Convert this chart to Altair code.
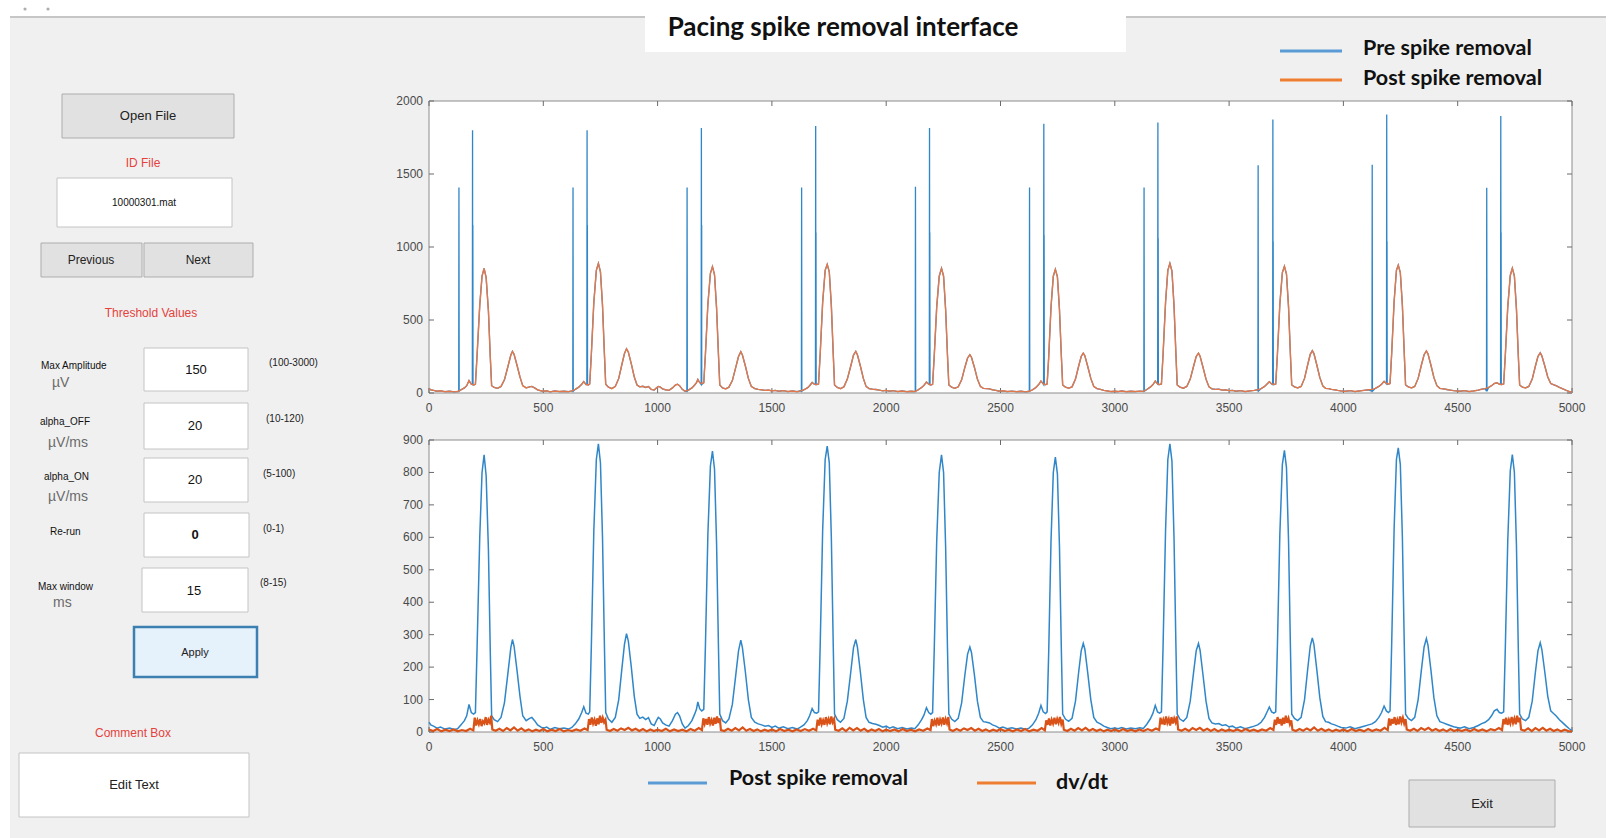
import altair as alt
import pandas as pd

W, H = 1612, 838

# ---------------- data ----------------
# Post spike removal signal (uV) : (time ms, value), one list per beat
post_beats = [
    [(0,30),(8,22),(20,18),(35,12),(50,15),(70,9),(90,12),(110,8),(125,10),(140,22),(155,35),(165,50),(175,85),(185,60),(195,55),(203,60),(210,250),(222,600),(232,800),(241,854),(250,790),(260,560),(268,250),(274,50),(285,38),(300,32),(315,45),(330,90),(345,180),(358,260),(365,285),(372,265),(385,190),(398,110),(410,50),(425,35),(440,42),(450,45),(462,35),(475,22),(490,15)],
    [(500,12),(515,15),(530,8),(550,14),(570,10),(590,12),(610,9),(625,14),(640,25),(655,40),(668,60),(677,78),(687,58),(697,55),(703,62),(710,260),(721,620),(732,840),(741,888),(750,830),(759,600),(767,280),(773,60),(785,40),(800,30),(815,45),(830,100),(843,190),(855,270),(864,303),(872,280),(885,200),(898,110),(910,55),(922,42),(935,46),(948,38),(960,44),(972,25),(985,20),(995,35),(1003,45),(1012,40),(1022,28),(1035,22),(1050,18),(1065,35),(1078,55),(1087,60),(1096,50),(1108,25),(1120,12)],
    [(1135,20),(1150,35),(1162,55),(1170,70),(1176,93),(1184,72),(1193,65),(1202,70),(1209,260),(1220,610),(1231,820),(1240,866),(1249,810),(1258,580),(1266,270),(1272,55),(1284,35),(1298,28),(1312,40),(1327,85),(1341,170),(1354,250),(1364,283),(1371,260),(1384,185),(1397,100),(1410,45),(1425,30),(1440,25),(1455,22),(1470,18),(1485,20),(1500,14)],
    [(1515,18),(1530,12),(1550,16),(1570,10),(1590,14),(1610,9),(1625,15),(1640,22),(1655,35),(1665,50),(1676,72),(1686,60),(1696,58),(1704,62),(1711,260),(1722,620),(1733,840),(1742,881),(1751,830),(1760,600),(1768,280),(1774,55),(1786,38),(1800,30),(1815,42),(1830,95),(1845,185),(1857,260),(1867,285),(1874,262),(1887,185),(1900,100),(1912,45),(1925,30),(1940,26),(1955,24),(1970,20),(1985,15),(2000,18)],
    [(2015,12),(2030,16),(2050,10),(2070,14),(2090,9),(2110,12),(2125,10),(2140,22),(2155,38),(2165,52),(2176,75),(2186,60),(2195,55),(2203,60),(2210,250),(2221,590),(2232,800),(2242,854),(2251,800),(2260,570),(2268,260),(2274,55),(2286,40),(2300,32),(2315,42),(2330,90),(2344,175),(2356,240),(2366,262),(2373,245),(2386,175),(2399,95),(2412,45),(2425,32),(2440,30),(2452,28),(2465,22),(2480,18),(2495,12)],
    [(2510,15),(2530,10),(2550,13),(2570,9),(2590,12),(2610,8),(2625,12),(2640,22),(2655,38),(2667,58),(2677,82),(2687,62),(2697,57),(2704,62),(2711,250),(2721,590),(2731,800),(2740,847),(2749,795),(2758,570),(2766,260),(2772,55),(2784,40),(2798,33),(2813,42),(2828,95),(2842,185),(2853,250),(2862,273),(2869,255),(2882,180),(2895,100),(2908,45),(2922,30),(2937,25),(2952,18),(2967,14),(2982,10),(3000,12)],
    [(3015,10),(3030,14),(3050,9),(3070,12),(3090,10),(3110,13),(3125,11),(3140,24),(3155,40),(3167,58),(3177,82),(3187,62),(3196,58),(3204,62),(3211,260),(3222,620),(3232,840),(3241,888),(3250,835),(3259,600),(3267,280),(3273,55),(3285,40),(3300,33),(3315,45),(3330,95),(3344,180),(3356,250),(3366,273),(3373,252),(3386,175),(3399,95),(3412,42),(3425,28),(3440,25),(3455,26),(3470,20),(3485,22),(3500,16)],
    [(3515,18),(3530,12),(3550,16),(3570,10),(3590,14),(3610,18),(3625,22),(3640,30),(3655,45),(3665,60),(3676,77),(3686,62),(3696,58),(3704,62),(3711,255),(3722,610),(3733,825),(3742,868),(3751,815),(3760,590),(3768,270),(3774,55),(3786,42),(3800,35),(3815,45),(3830,100),(3844,195),(3855,265),(3864,290),(3871,270),(3884,190),(3897,105),(3910,48),(3922,32),(3935,30),(3948,25),(3962,22),(3975,18),(3990,14)],
    [(4010,12),(4030,16),(4050,10),(4070,14),(4090,18),(4110,22),(4125,25),(4140,32),(4155,45),(4167,60),(4178,80),(4188,65),(4197,60),(4204,65),(4211,265),(4222,630),(4232,840),(4240,876),(4249,825),(4258,600),(4266,280),(4272,55),(4284,42),(4298,35),(4312,45),(4327,100),(4341,190),(4353,262),(4363,288),(4370,268),(4383,190),(4396,105),(4409,50),(4422,32),(4437,28),(4452,24),(4467,20),(4482,16),(4497,14)],
    [(4510,12),(4530,16),(4550,10),(4570,14),(4590,20),(4605,26),(4620,30),(4635,38),(4648,50),(4660,65),(4672,70),(4682,60),(4692,58),(4701,62),(4708,250),(4719,590),(4730,805),(4739,855),(4748,800),(4757,575),(4765,260),(4771,55),(4783,40),(4797,35),(4811,45),(4826,95),(4840,185),(4851,250),(4861,275),(4868,255),(4881,185),(4894,110),(4907,65),(4918,58),(4930,50),(4945,38),(4960,28),(4975,18),(4988,10),(5000,4)],
]

# Pacing spikes present before removal: (time ms, height uV)
spike1 = [(131,1408),(630,1408),(1129,1408),(1630,1408),(2128,1412),(2627,1408),(3128,1408),(3627,1560),(4126,1564),(4627,1406)]
spike2 = [(191,1800),(692,1800),(1192,1815),(1692,1829),(2190,1815),(2690,1845),(3189,1852),(3692,1874),(4190,1908),(4689,1897)]
spike2_inner = [1150,1150,1150,1100,1100,1080,1060,1040,1040,1100]

# dv/dt trace : (time ms, value), one list per beat
dvdt_beats = [
    [(0,8),(18,3),(36,9),(54,2),(72,7),(90,3),(108,8),(126,2),(144,6),(162,3),(180,10),(194,5),(200,44),(206,20),(212,36),(218,24),(224,40),(230,18),(236,33),(242,27),(248,46),(254,22),(260,38),(266,29),(272,50),(277,8),(292,4),(308,10),(324,3),(340,12),(356,5),(372,14),(388,4),(404,11),(420,3),(436,8),(452,2),(468,7),(484,3)],
    [(500,9),(518,2),(536,7),(554,3),(572,9),(590,2),(608,6),(626,3),(644,8),(662,4),(680,11),(694,6),(700,40),(706,22),(712,45),(718,26),(724,38),(730,19),(736,42),(742,24),(748,50),(754,28),(760,44),(766,30),(772,38),(777,7),(792,3),(808,9),(824,4),(840,11),(856,6),(872,13),(888,5),(904,10),(920,3),(936,9),(952,2),(968,8),(984,3)],
    [(1000,7),(1018,3),(1036,10),(1054,2),(1072,8),(1090,3),(1108,7),(1126,2),(1144,9),(1162,4),(1180,12),(1194,6),(1200,42),(1206,25),(1212,40),(1218,22),(1224,46),(1230,26),(1236,37),(1242,20),(1248,44),(1254,25),(1260,48),(1266,28),(1272,42),(1277,6),(1292,3),(1308,10),(1324,4),(1340,12),(1356,5),(1372,14),(1388,4),(1404,9),(1420,3),(1436,8),(1452,2),(1468,7),(1484,3)],
    [(1500,8),(1518,2),(1536,9),(1554,3),(1572,7),(1590,2),(1608,8),(1626,3),(1644,9),(1662,4),(1680,10),(1694,5),(1700,38),(1706,20),(1712,44),(1718,24),(1724,36),(1730,22),(1736,46),(1742,27),(1748,40),(1754,24),(1760,48),(1766,30),(1772,40),(1777,7),(1792,4),(1808,11),(1824,3),(1840,13),(1856,5),(1872,12),(1888,4),(1904,10),(1920,2),(1936,8),(1952,3),(1968,9),(1984,2)],
    [(2000,7),(2018,3),(2036,8),(2054,2),(2072,9),(2090,3),(2108,7),(2126,2),(2144,8),(2162,4),(2180,11),(2194,6),(2200,40),(2206,18),(2212,35),(2218,24),(2224,44),(2230,20),(2236,38),(2242,26),(2248,45),(2254,22),(2260,40),(2266,27),(2272,46),(2277,8),(2292,3),(2308,9),(2324,4),(2340,11),(2356,6),(2372,12),(2388,4),(2404,10),(2420,3),(2436,8),(2452,2),(2468,7),(2484,3)],
    [(2500,9),(2518,3),(2536,7),(2554,2),(2572,8),(2590,3),(2608,9),(2626,2),(2644,7),(2662,4),(2680,12),(2694,5),(2700,36),(2706,22),(2712,42),(2718,20),(2724,38),(2730,26),(2736,44),(2742,24),(2748,40),(2754,28),(2760,46),(2766,25),(2772,38),(2777,7),(2792,3),(2808,10),(2824,4),(2840,12),(2856,5),(2872,13),(2888,4),(2904,9),(2920,3),(2936,8),(2952,2),(2968,7),(2984,3)],
    [(3000,8),(3018,2),(3036,9),(3054,3),(3072,7),(3090,2),(3108,8),(3126,3),(3144,9),(3162,4),(3180,11),(3194,6),(3200,44),(3206,24),(3212,38),(3218,22),(3224,48),(3230,28),(3236,40),(3242,20),(3248,46),(3254,26),(3260,42),(3266,30),(3272,48),(3277,8),(3292,4),(3308,10),(3324,3),(3340,12),(3356,6),(3372,13),(3388,4),(3404,10),(3420,3),(3436,9),(3452,2),(3468,8),(3484,3)],
    [(3500,7),(3518,3),(3536,8),(3554,2),(3572,9),(3590,3),(3608,7),(3626,2),(3644,8),(3662,4),(3680,12),(3694,6),(3700,38),(3706,22),(3712,46),(3718,26),(3724,40),(3730,20),(3736,44),(3742,25),(3748,50),(3754,28),(3760,42),(3766,24),(3772,36),(3777,7),(3792,3),(3808,9),(3824,4),(3840,11),(3856,5),(3872,14),(3888,4),(3904,10),(3920,3),(3936,8),(3952,2),(3968,7),(3984,3)],
    [(4000,8),(4018,2),(4036,9),(4054,3),(4072,7),(4090,2),(4108,9),(4126,3),(4144,8),(4162,4),(4180,13),(4194,6),(4200,42),(4206,20),(4212,40),(4218,26),(4224,46),(4230,22),(4236,38),(4242,24),(4248,48),(4254,30),(4260,44),(4266,26),(4272,40),(4277,8),(4292,4),(4308,10),(4324,3),(4340,12),(4356,6),(4372,13),(4388,4),(4404,9),(4420,3),(4436,8),(4452,2),(4468,9),(4484,3)],
    [(4500,7),(4518,3),(4536,8),(4554,2),(4572,9),(4590,3),(4608,8),(4626,2),(4644,9),(4662,5),(4680,12),(4694,6),(4700,40),(4706,24),(4712,44),(4718,22),(4724,38),(4730,26),(4736,46),(4742,28),(4748,42),(4754,24),(4760,50),(4766,30),(4772,44),(4777,8),(4792,4),(4808,11),(4824,3),(4840,12),(4856,5),(4872,13),(4888,4),(4904,10),(4920,3),(4936,8),(4952,2),(4968,7),(4984,3),(5000,2)],
]

x_ticks = [0, 500, 1000, 1500, 2000, 2500, 3000, 3500, 4000, 4500, 5000]
y_ticks_top = [0, 500, 1000, 1500, 2000]
y_ticks_bot = [0, 100, 200, 300, 400, 500, 600, 700, 800, 900]

# ---------------- tables ----------------
post_pts = [p for beat in post_beats for p in beat]
pre_pts = list(post_pts)
for (t, h) in spike1:
    pre_pts += [(t - 1, 12), (t, h), (t + 1, 12)]
for (t, h), h2 in zip(spike2, spike2_inner):
    pre_pts += [(t - 1.5, 58), (t - 0.5, h), (t + 0.3, 58), (t + 0.8, h2), (t + 1.6, 58)]
pre_pts.sort()
dvdt_pts = [p for beat in dvdt_beats for p in beat]

post_df = pd.DataFrame(post_pts, columns=["t", "v"])
pre_df = pd.DataFrame(pre_pts, columns=["t", "v"])
dvdt_df = pd.DataFrame(dvdt_pts, columns=["t", "v"])

# ---------------- styling / layout ----------------
GUI_FONT = "Liberation Sans"
HEAD_FONT = "Lato"
RED = "#e4423d"
BLUE = "#2f86c8"
ORANGE = "#d95319"
TICK_COL = "#4a4a4a"
X0, X1 = 429, 1572

dummy = alt.Data(values=[{"k": 0}])


def rect(x1, y1, x2, y2, fill, stroke=None, sw=1.0):
    kw = dict(fill=fill)
    if stroke:
        kw.update(stroke=stroke, strokeWidth=sw)
    else:
        kw.update(strokeWidth=0)
    return alt.Chart(dummy).mark_rect(**kw).encode(
        x=alt.value(x1), x2=alt.value(x2), y=alt.value(y1), y2=alt.value(y2))


def label(x, y, s, size=12, color="#000000", weight="normal", align="center", font=GUI_FONT):
    return alt.Chart(dummy).mark_text(
        text=s, fontSize=size, color=color, fontWeight=weight, align=align,
        baseline="middle", font=font).encode(x=alt.value(x), y=alt.value(y))


def hline(x1, x2, y, color, sw):
    return alt.Chart(dummy).mark_rule(color=color, strokeWidth=sw).encode(
        x=alt.value(x1), x2=alt.value(x2), y=alt.value(y))


def panel(ymax, yticks, y_top, y_bot, lines):
    xs = alt.Scale(domain=[0, 5000], range=[X0, X1], nice=False, zero=False)
    ys = alt.Scale(domain=[0, ymax], range=[y_bot, y_top], nice=False, zero=False)
    box = alt.Chart(dummy).mark_rect(fill="white", stroke="#8c8c8c", strokeWidth=1).encode(
        x=alt.XDatum(0, type="quantitative", scale=xs, axis=None),
        x2=alt.X2Datum(5000),
        y=alt.YDatum(0, type="quantitative", scale=ys, axis=None),
        y2=alt.Y2Datum(ymax),
    )
    xt = pd.DataFrame({"v": x_ticks})
    yt = pd.DataFrame({"v": yticks})
    tick_layers = []
    for yval, off in [(0, -5), (ymax, 5)]:
        tick_layers.append(alt.Chart(xt).mark_rule(color="#6a6a6a", strokeWidth=1, y2Offset=off).encode(
            x=alt.X("v:Q", scale=xs, axis=None),
            y=alt.YDatum(yval, type="quantitative", scale=ys, axis=None),
            y2=alt.Y2Datum(yval)))
    for xval, off in [(0, 5), (5000, -5)]:
        tick_layers.append(alt.Chart(yt).mark_rule(color="#6a6a6a", strokeWidth=1, x2Offset=off).encode(
            y=alt.Y("v:Q", scale=ys, axis=None),
            x=alt.XDatum(xval, type="quantitative", scale=xs, axis=None),
            x2=alt.X2Datum(xval)))
    # tick labels, placed through the panel's own scales
    xlab = alt.Chart(xt).mark_text(fontSize=12, font=GUI_FONT, color=TICK_COL, baseline="middle",
                                   align="center", dy=15).encode(
        x=alt.X("v:Q", scale=xs, axis=None),
        y=alt.YDatum(0, type="quantitative", scale=ys, axis=None),
        text=alt.Text("v:Q", format="d"))
    ylab = alt.Chart(yt).mark_text(fontSize=12, font=GUI_FONT, color=TICK_COL, baseline="middle",
                                   align="right", dx=-6).encode(
        y=alt.Y("v:Q", scale=ys, axis=None),
        x=alt.XDatum(0, type="quantitative", scale=xs, axis=None),
        text=alt.Text("v:Q", format="d"))
    line_layers = []
    for df, color, sw in lines:
        line_layers.append(alt.Chart(df).mark_line(color=color, strokeWidth=sw, interpolate="linear").encode(
            x=alt.X("t:Q", scale=xs, axis=None),
            y=alt.Y("v:Q", scale=ys, axis=None),
            order="t:Q"))
    return alt.layer(box, *tick_layers, *line_layers, xlab, ylab)


top_panel = panel(2000, y_ticks_top, 101, 393,
                  [(pre_df, "#2f86c8", 1.3), (post_df, "#e4784a", 1.4)])
bottom_panel = panel(900, y_ticks_bot, 440, 732,
                     [(post_df, BLUE, 1.5), (dvdt_df, ORANGE, 2.2)])

# ---------------- GUI elements ----------------
bg = [
    rect(10, 17, 1606, 838, "#f0f0f0"),
    hline(10, 1606, 17, "#c6c6c6", 2),
    alt.Chart(dummy).mark_circle(color="#8a8a8a", size=10).encode(x=alt.value(25), y=alt.value(9)),
    alt.Chart(dummy).mark_circle(color="#8a8a8a", size=10).encode(x=alt.value(48), y=alt.value(9)),
    rect(645, 8, 1126, 52, "white"),
    label(843, 28, "Pacing spike removal interface", size=26, weight="bold", font=HEAD_FONT, color="#111111"),
    # top legend
    hline(1280, 1342, 51, "#5b9bd5", 3),
    hline(1280, 1342, 80, "#ed7d31", 3),
    label(1363, 49, "Pre spike removal", size=21.5, weight="bold", align="left", font=HEAD_FONT, color="#111111"),
    label(1363, 79, "Post spike removal", size=21.5, weight="bold", align="left", font=HEAD_FONT, color="#111111"),
    # bottom legend
    hline(648, 707, 783, "#5b9bd5", 3),
    hline(977, 1036, 783, "#ed7d31", 3),
    label(729, 779, "Post spike removal", size=21.5, weight="bold", align="left", font=HEAD_FONT, color="#111111"),
    label(1056, 783, "dv/dt", size=21.5, weight="bold", align="left", font=HEAD_FONT, color="#111111"),
    # exit button
    rect(1409, 780, 1555, 827, "#e1e1e1", "#adadad", 1),
    label(1482, 804, "Exit", size=13, color="#222222"),
]

BTN_FILL, BTN_STROKE = "#e1e1e1", "#adadad"
BOX_STROKE = "#c4c4c4"
left = [
    rect(62, 94, 234, 138, BTN_FILL, BTN_STROKE),
    label(148, 116, "Open File", size=13, color="#222222"),
    label(143, 163, "ID File", size=12, color=RED),
    rect(57, 178, 232, 227, "white", BOX_STROKE),
    label(144, 203, "10000301.mat", size=10, color="#111111"),
    rect(41, 243, 142, 277, BTN_FILL, BTN_STROKE),
    label(91, 260, "Previous", size=12, color="#222222"),
    rect(144, 243, 253, 277, BTN_FILL, BTN_STROKE),
    label(198, 260, "Next", size=12, color="#222222"),
    label(151, 313, "Threshold Values", size=12, color=RED),
    # Max Amplitude
    label(41, 366, "Max Amplitude", size=10, align="left", color="#111111"),
    label(52, 383, "µV", size=14, align="left", color="#6a6a6a"),
    rect(144, 348, 248, 391, "white", BOX_STROKE),
    label(196, 370, "150", size=13, color="#111111"),
    label(269, 363, "(100-3000)", size=10, align="left", color="#222222"),
    # alpha_OFF
    label(40, 422, "alpha_OFF", size=10, align="left", color="#111111"),
    label(48, 443, "µV/ms", size=14, align="left", color="#6a6a6a"),
    rect(144, 403, 248, 449, "white", BOX_STROKE),
    label(195, 426, "20", size=13, color="#111111"),
    label(266, 419, "(10-120)", size=10, align="left", color="#222222"),
    # alpha_ON
    label(44, 477, "alpha_ON", size=10, align="left", color="#111111"),
    label(48, 497, "µV/ms", size=14, align="left", color="#6a6a6a"),
    rect(144, 458, 248, 502, "white", BOX_STROKE),
    label(195, 480, "20", size=13, color="#111111"),
    label(263, 474, "(5-100)", size=10, align="left", color="#222222"),
    # Re-run
    label(50, 532, "Re-run", size=10, align="left", color="#111111"),
    rect(144, 513, 249, 557, "white", BOX_STROKE),
    label(195, 535, "0", size=13, weight="bold", color="#111111"),
    label(263, 529, "(0-1)", size=10, align="left", color="#222222"),
    # Max window
    label(38, 587, "Max window", size=10, align="left", color="#111111"),
    label(53, 603, "ms", size=14, align="left", color="#6a6a6a"),
    rect(142, 568, 248, 612, "white", BOX_STROKE),
    label(194, 591, "15", size=13, color="#111111"),
    label(260, 583, "(8-15)", size=10, align="left", color="#222222"),
    # Apply
    rect(134, 627, 257, 677, "#e5f1fb", "#3c7fb1", 2.5),
    label(195, 653, "Apply", size=11, color="#222222"),
    # Comment box
    label(133, 733, "Comment Box", size=12, color=RED),
    rect(19, 753, 249, 817, "white", BOX_STROKE),
    label(134, 785, "Edit Text", size=13, color="#222222"),
]

chart = alt.layer(*bg, *left, top_panel, bottom_panel).resolve_scale(
    x="independent", y="independent"
).properties(
    width=W, height=H, autosize=alt.AutoSizeParams(type="none"), padding=0, background="white"
).configure_view(strokeWidth=0)

chart.save("out.html", embed_options={"renderer": "svg", "actions": False})
